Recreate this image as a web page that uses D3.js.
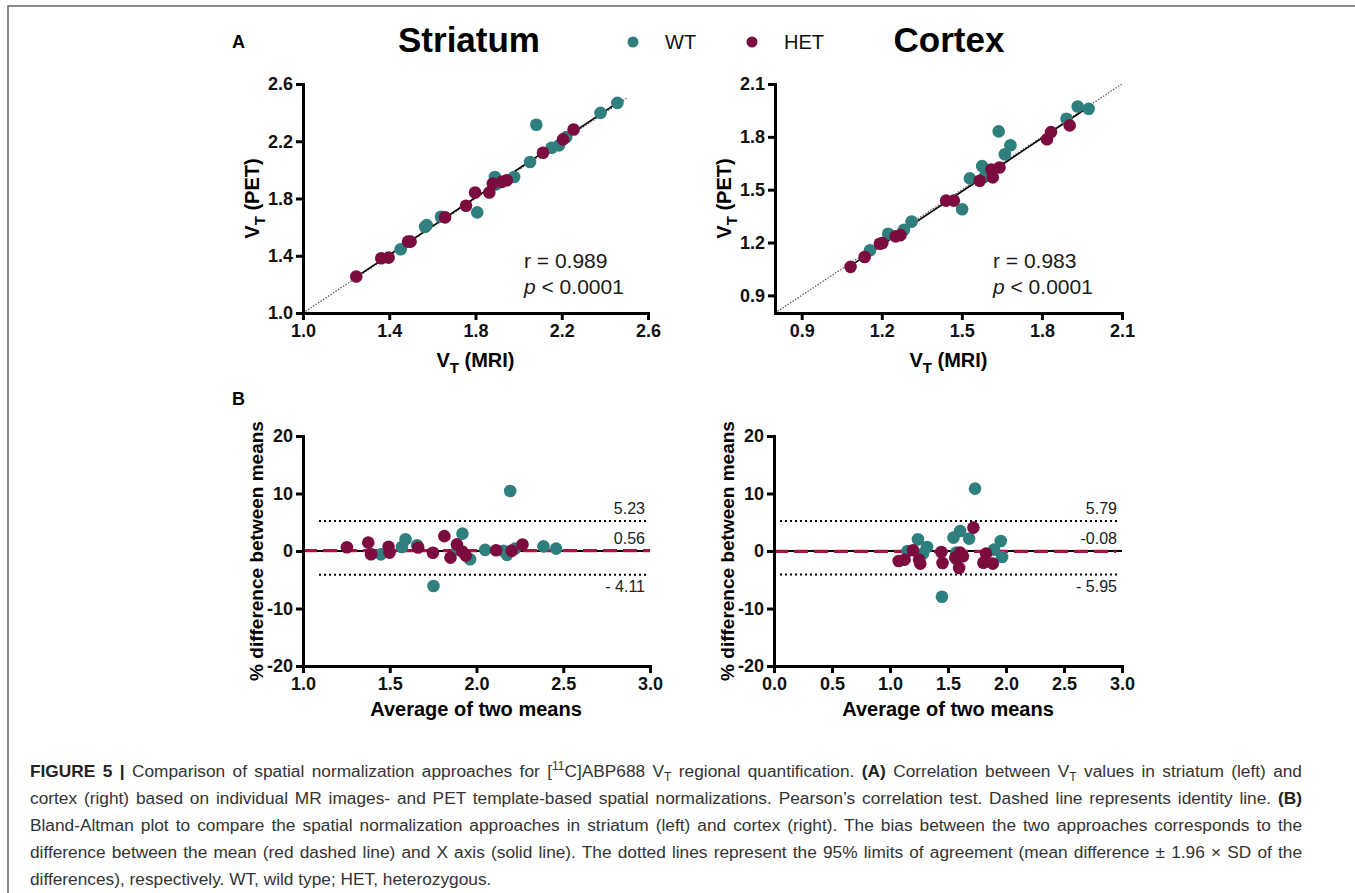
<!DOCTYPE html>
<html>
<head>
<meta charset="utf-8">
<script src="https://cdn.jsdelivr.net/npm/d3@7"></script>
<style>
  body { margin: 0; background: #fff; }
  svg text { font-family: Arial, "Liberation Sans", Helvetica, sans-serif; }
  .axis path, .axis line { stroke: #000; stroke-width: 3; }
  .axis path { stroke-linecap: square; }
  .axis text { font-weight: bold; font-size: 18px; fill: #111; }
</style>
</head>
<body>
<svg id="chart"></svg>
<script>
const width = 1355;
const height = 893;

const wtColor = "#2f7f7e";
const hetColor = "#7c0c3f";
const meanColor = "#a8143c";

// Panel A - striatum, [VT (MRI), VT (PET)]
const striatumWT = [[2.458, 2.468], [2.380, 2.398], [2.082, 2.315], [2.221, 2.229], [2.187, 2.171],
    [2.153, 2.155], [2.053, 2.055], [1.979, 1.950], [1.890, 1.950], [1.895, 1.899], [1.808, 1.703],
    [1.640, 1.672], [1.574, 1.614], [1.566, 1.602], [1.453, 1.445]];
const striatumHET = [[2.255, 2.282], [2.206, 2.213], [2.113, 2.120], [1.945, 1.927], [1.922, 1.916],
    [1.880, 1.904], [1.864, 1.842], [1.798, 1.842], [1.756, 1.749], [1.659, 1.668], [1.499, 1.499],
    [1.487, 1.499], [1.397, 1.387], [1.363, 1.383], [1.247, 1.255]];
const striatumFit = [[1.24, 1.245], [2.47, 2.48]];
const striatumIdentity = [1.0, 2.5];

// Panel A - cortex
const cortexWT = [[1.934, 1.972], [1.975, 1.959], [1.892, 1.903], [1.638, 1.831], [1.682, 1.752],
    [1.661, 1.701], [1.576, 1.634], [1.530, 1.564], [1.585, 1.573], [1.501, 1.389], [1.312, 1.319],
    [1.283, 1.272], [1.224, 1.250], [1.156, 1.156]];
const cortexHET = [[1.904, 1.865], [1.834, 1.827], [1.819, 1.786], [1.641, 1.626], [1.611, 1.615],
    [1.616, 1.570], [1.567, 1.551], [1.470, 1.438], [1.441, 1.438], [1.270, 1.242], [1.252, 1.235],
    [1.202, 1.197], [1.193, 1.193], [1.136, 1.118], [1.083, 1.062]];
const cortexFit = [[1.07, 1.055], [1.98, 1.975]];
const cortexIdentity = [0.8, 2.1];

const striatumTicks = [1.0, 1.4, 1.8, 2.2, 2.6];
const cortexTicks = [0.9, 1.2, 1.5, 1.8, 2.1];

// Panel B - Bland-Altman, [average, % difference]
const baStriatumWT = [[1.449, -0.58], [1.570, 0.70], [1.591, 2.03], [1.658, 0.99], [1.752, -6.09],
    [1.891, 0.25], [1.919, 3.02], [1.963, -1.44], [2.050, 0.20], [2.155, 0.05], [2.176, -0.68],
    [2.194, 10.43], [2.223, 0.42], [2.386, 0.80], [2.459, 0.41]];
const baStriatumHET = [[1.253, 0.65], [1.376, 1.45], [1.392, -0.57], [1.493, 0.75], [1.499, -0.28],
    [1.664, 0.62], [1.749, -0.30], [1.815, 2.58], [1.850, -1.15], [1.887, 1.16], [1.918, -0.10],
    [1.938, -0.80], [2.113, 0.12], [2.203, 0.05], [2.265, 1.13]];
const baStriatumMeanLine = 0.05;   // red dashed line as drawn in the figure
const baStriatumLimits = [5.23, -4.11];
const baStriatumLabels = ["5.23", "0.56", "- 4.11"];

const baCortexWT = [[1.152, 0.0], [1.241, 2.03], [1.284, -0.46], [1.319, 0.70], [1.448, -7.95],
    [1.547, 2.33], [1.605, 3.48], [1.682, 2.16], [1.571, -0.28], [1.576, -1.50], [1.733, 10.84],
    [1.897, 0.24], [1.955, 1.74], [1.966, -1.04]];
const baCortexHET = [[1.075, -1.74], [1.126, -1.50], [1.198, 0.12], [1.250, -1.50], [1.261, -2.20],
    [1.442, -0.17], [1.453, -2.09], [1.719, 4.07], [1.562, -1.15], [1.605, -0.28], [1.628, -0.92],
    [1.596, -2.96], [1.828, -0.46], [1.805, -2.03], [1.886, -2.20]];
const baCortexMeanLine = -0.05;
const baCortexLimits = [5.2, -4.1];
const baCortexLabels = ["5.79", "-0.08", "- 5.95"];

const baYTicks = [-20, -10, 0, 10, 20];
const baStriatumXTicks = [1.0, 1.5, 2.0, 2.5, 3.0];
const baCortexXTicks = [0.0, 0.5, 1.0, 1.5, 2.0, 2.5, 3.0];

const captionLines = [
    [["FIGURE 5 |", true], [" Comparison of spatial normalization approaches for [", false], ["11", false, "sup"],
     ["C]ABP688 V", false], ["T", false, "sub"], [" regional quantification. ", false], ["(A)", true],
     [" Correlation between V", false], ["T", false, "sub"], [" values in striatum (left) and", false]],
    [["cortex (right) based on individual MR images- and PET template-based spatial normalizations. Pearson\u2019s correlation test. Dashed line represents identity line. ", false], ["(B)", true]],
    [["Bland-Altman plot to compare the spatial normalization approaches in striatum (left) and cortex (right). The bias between the two approaches corresponds to the", false]],
    [["difference between the mean (red dashed line) and X axis (solid line). The dotted lines represent the 95% limits of agreement (mean difference \u00b1 1.96 \u00d7 SD of the", false]],
    [["differences), respectively. WT, wild type; HET, heterozygous.", false]]
];

const svg = d3.select("#chart")
    .attr("width", width)
    .attr("height", height);

svg.append("rect").attr("width", width).attr("height", height).attr("fill", "#fff");
svg.append("path")
    .attr("d", "M8,893V6H1355")
    .attr("fill", "none")
    .attr("stroke", "#666")
    .attr("stroke-width", 1.5);

function subTitle(sel, main, rest) {
    sel.append("tspan").text(main);
    sel.append("tspan").attr("dy", 6).attr("font-size", 15).text("T");
    sel.append("tspan").attr("dy", -6).text(rest);
}

function drawAxes(g, x, y, xTicks, yTicks, xFmt, yFmt, bottom, left) {
    g.append("g")
        .attr("class", "axis")
        .attr("transform", `translate(0,${bottom})`)
        .call(d3.axisBottom(x).tickValues(xTicks).tickFormat(xFmt).tickSize(7).tickSizeOuter(0).tickPadding(4));
    g.append("g")
        .attr("class", "axis")
        .attr("transform", `translate(${left},0)`)
        .call(d3.axisLeft(y).tickValues(yTicks).tickFormat(yFmt).tickSize(7).tickSizeOuter(0).tickPadding(3));
}

function drawPoints(g, x, y, data, color) {
    g.selectAll(null)
        .data(data)
        .enter().append("circle")
        .attr("cx", d => x(d[0]))
        .attr("cy", d => y(d[1]))
        .attr("r", 6.3)
        .attr("fill", color);
}

function scatterPanel(p) {
    const x = d3.scaleLinear().domain(p.domain).range([p.left, p.right]);
    const y = d3.scaleLinear().domain(p.domain).range([p.bottom, p.top]);
    const g = svg.append("g");

    g.append("line")
        .attr("x1", x(p.identity[0])).attr("y1", y(p.identity[0]))
        .attr("x2", x(p.identity[1])).attr("y2", y(p.identity[1]))
        .attr("stroke", "#555").attr("stroke-width", 1.2).attr("stroke-dasharray", "1.5,1.5");

    g.append("line")
        .attr("x1", x(p.fit[0][0])).attr("y1", y(p.fit[0][1]))
        .attr("x2", x(p.fit[1][0])).attr("y2", y(p.fit[1][1]))
        .attr("stroke", "#000").attr("stroke-width", 1.6);

    drawPoints(g, x, y, p.wt, wtColor);
    drawPoints(g, x, y, p.het, hetColor);

    const fmt = d3.format(".1f");
    drawAxes(g, x, y, p.ticks, p.ticks, fmt, fmt, p.bottom, p.left);

    const xt = g.append("text")
        .attr("x", (p.left + p.right) / 2)
        .attr("y", p.bottom + 54)
        .attr("text-anchor", "middle")
        .attr("font-weight", "bold")
        .attr("font-size", 20);
    subTitle(xt, "V", " (MRI)");

    const yt = g.append("text")
        .attr("transform", `translate(${p.left - 44},${(p.top + p.bottom) / 2}) rotate(-90)`)
        .attr("text-anchor", "middle")
        .attr("font-weight", "bold")
        .attr("font-size", 20);
    subTitle(yt, "V", " (PET)");

    g.append("text")
        .attr("x", p.statX).attr("y", 268)
        .attr("font-size", 21).attr("fill", "#1a1a1a")
        .text(p.r);
    const pt = g.append("text")
        .attr("x", p.statX).attr("y", 294)
        .attr("font-size", 21).attr("fill", "#1a1a1a");
    pt.append("tspan").attr("font-style", "italic").text("p");
    pt.append("tspan").text(" < 0.0001");
}

function baPanel(p) {
    const x = d3.scaleLinear().domain(p.xDomain).range([p.left, p.right]);
    const y = d3.scaleLinear().domain([-20, 20]).range([p.bottom, p.top]);
    const g = svg.append("g");

    g.append("line")
        .attr("x1", x(p.xDomain[0])).attr("x2", x(p.xDomain[1]))
        .attr("y1", y(0)).attr("y2", y(0))
        .attr("stroke", "#000").attr("stroke-width", 2);

    g.selectAll(null)
        .data(p.limits)
        .enter().append("line")
        .attr("x1", x(p.xDomain[0]) + p.dotInset).attr("x2", x(p.xDomain[1]) - 2)
        .attr("y1", d => y(d)).attr("y2", d => y(d))
        .attr("stroke", "#000").attr("stroke-width", 2).attr("stroke-dasharray", "2,3");

    g.append("line")
        .attr("x1", x(p.xDomain[0])).attr("x2", x(p.xDomain[1]) - p.meanInset)
        .attr("y1", y(p.meanLine)).attr("y2", y(p.meanLine))
        .attr("stroke", meanColor).attr("stroke-width", 3.2).attr("stroke-dasharray", "14,6");

    drawPoints(g, x, y, p.wt, wtColor);
    drawPoints(g, x, y, p.het, hetColor);

    const labelX = x(p.xDomain[1]) - p.labelInset;
    const labelY = [y(p.limits[0]) - 7, y(0) - 7, y(p.limits[1]) + 17];
    g.selectAll(null)
        .data(p.labels)
        .enter().append("text")
        .attr("x", labelX)
        .attr("y", (d, i) => labelY[i])
        .attr("text-anchor", "end")
        .attr("font-size", 16)
        .attr("fill", "#1a1a1a")
        .text(d => d);

    drawAxes(g, x, y, p.xTicks, baYTicks, d3.format(".1f"), d => String(d), p.bottom, p.left);

    g.append("text")
        .attr("x", p.titleX)
        .attr("y", p.bottom + 50)
        .attr("text-anchor", "middle")
        .attr("font-weight", "bold")
        .attr("font-size", 20)
        .text("Average of two means");

    g.append("text")
        .attr("transform", `translate(${p.left - 40},${(p.top + p.bottom) / 2}) rotate(-90)`)
        .attr("text-anchor", "middle")
        .attr("font-weight", "bold")
        .attr("font-size", 19)
        .text("% difference between means");
}

scatterPanel({
    domain: [1.0, 2.6], left: 303, right: 648, top: 84, bottom: 313,
    ticks: striatumTicks, wt: striatumWT, het: striatumHET,
    fit: striatumFit, identity: striatumIdentity, r: "r = 0.989", statX: 524
});
scatterPanel({
    domain: [0.8, 2.1], left: 775, right: 1122, top: 84, bottom: 313,
    ticks: cortexTicks, wt: cortexWT, het: cortexHET,
    fit: cortexFit, identity: cortexIdentity, r: "r = 0.983", statX: 993
});

baPanel({
    xDomain: [1.0, 3.0], left: 303, right: 650, top: 436, bottom: 666,
    xTicks: baStriatumXTicks, wt: baStriatumWT, het: baStriatumHET,
    meanLine: baStriatumMeanLine, limits: baStriatumLimits, labels: baStriatumLabels,
    dotInset: 16, meanInset: 0, labelInset: 5, titleX: 476
});
baPanel({
    xDomain: [0.0, 3.0], left: 774, right: 1122, top: 436, bottom: 666,
    xTicks: baCortexXTicks, wt: baCortexWT, het: baCortexHET,
    meanLine: baCortexMeanLine, limits: baCortexLimits, labels: baCortexLabels,
    dotInset: 6, meanInset: 6, labelInset: 5, titleX: 948
});

// headings and legend
svg.append("text").attr("x", 232).attr("y", 48).attr("font-weight", "bold").attr("font-size", 18).text("A");
svg.append("text").attr("x", 232).attr("y", 405).attr("font-weight", "bold").attr("font-size", 18).text("B");
svg.append("text").attr("x", 469).attr("y", 52).attr("text-anchor", "middle")
    .attr("font-weight", "bold").attr("font-size", 35).text("Striatum");
svg.append("text").attr("x", 949).attr("y", 52).attr("text-anchor", "middle")
    .attr("font-weight", "bold").attr("font-size", 35).text("Cortex");

const legendItems = [["WT", wtColor, 633], ["HET", hetColor, 752]];
const legend = svg.selectAll(".legend-item")
    .data(legendItems)
    .enter().append("g")
    .attr("class", "legend-item")
    .attr("transform", d => `translate(${d[2]},42)`);
legend.append("circle").attr("r", 5.5).attr("fill", d => d[1]);
legend.append("text").attr("x", 32).attr("y", 7).attr("font-size", 20).attr("fill", "#111").text(d => d[0]);

// caption, justified to the right margin
const capRight = 1302;
captionLines.forEach((line, i) => {
    const t = svg.append("text")
        .attr("x", 30)
        .attr("y", 777 + i * 27)
        .attr("font-size", 17.3)
        .attr("fill", "#333");
    line.forEach(part => {
        const s = t.append("tspan").text(part[0]);
        if (part[1]) s.attr("font-weight", "bold").attr("fill", "#222");
        if (part[2] === "sup") s.attr("baseline-shift", "super").attr("font-size", 12);
        if (part[2] === "sub") s.attr("dy", 4).attr("font-size", 12);
        if (part[2] !== "sub" && s.node().previousSibling && d3.select(s.node().previousSibling).attr("dy") === "4") s.attr("dy", -4);
    });
    if (i < captionLines.length - 1) {
        const len = t.node().getComputedTextLength();
        const spaces = line.map(p => p[0]).join("").split(" ").length - 1;
        t.attr("word-spacing", (capRight - 30 - len) / spaces);
    }
});
</script>
</body>
</html>
